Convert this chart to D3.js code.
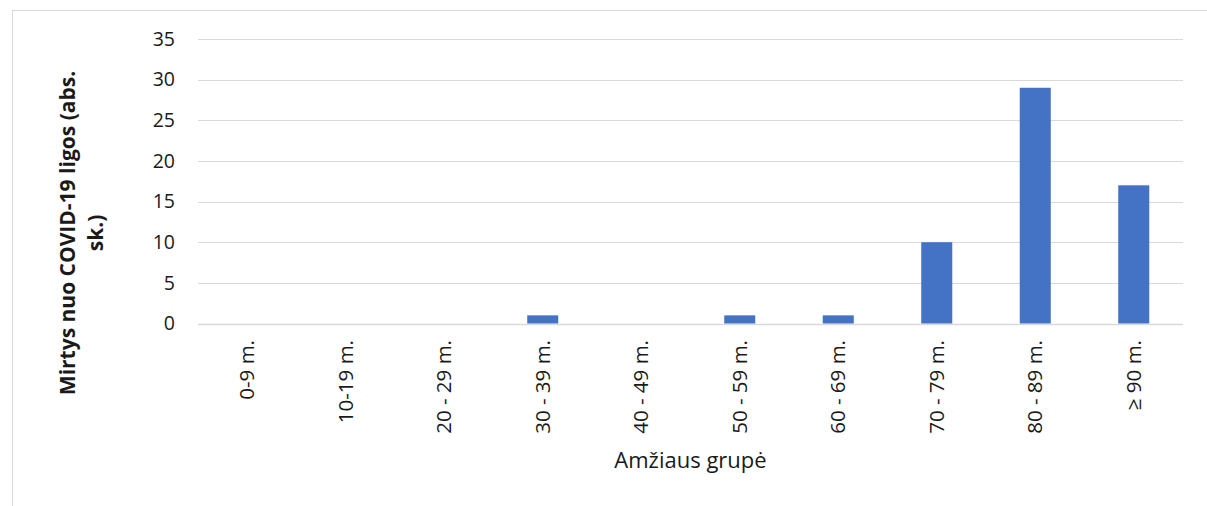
<!DOCTYPE html>
<html>
<head>
<meta charset="utf-8">
<script src="https://cdn.jsdelivr.net/npm/d3@7"></script>
<style>
  body { margin: 0; background: #fff; }
  text { font-family: "Open Sans", "Noto Sans", sans-serif; fill: #1a1a1a; }
</style>
</head>
<body>
<div id="chart"></div>
<script>
var categories = ['0-9 m.', '10-19 m.', '20 - 29 m.', '30 - 39 m.', '40 - 49 m.',
    '50 - 59 m.', '60 - 69 m.', '70 - 79 m.', '80 - 89 m.', '\u2265 90 m.'];
var deaths = [0, 0, 0, 1, 0, 1, 1, 10, 29, 17];
var yTicks = [0, 5, 10, 15, 20, 25, 30, 35];
var yTitle = ['Mirtys nuo COVID-19 ligos (abs.', 'sk.)'];
var xTitle = 'Am\u017eiaus grup\u0117';

var W = 1207, H = 506;
var plot = { left: 198, right: 1183, top: 39, bottom: 323.5 };

var svg = d3.select('#chart').append('svg')
    .attr('width', W).attr('height', H);

svg.append('rect')
    .attr('x', 12.5).attr('y', 10.5)
    .attr('width', W).attr('height', H)
    .attr('fill', '#fff')
    .attr('stroke', '#d9d9d9');

var x = d3.scaleBand()
    .domain(categories)
    .range([plot.left, plot.right])
    .paddingInner(0.685)
    .paddingOuter(0.3425);

var y = d3.scaleLinear()
    .domain([0, 35])
    .range([plot.bottom, plot.top]);

// grid lines
svg.append('g').selectAll('line')
    .data(yTicks)
    .enter().append('line')
    .attr('x1', plot.left).attr('x2', plot.right)
    .attr('y1', function (d) { return Math.round(y(d)) + 0.5; })
    .attr('y2', function (d) { return Math.round(y(d)) + 0.5; })
    .attr('stroke', '#d9d9d9')
    .attr('stroke-width', function (d) { return d == 0 ? 1.5 : 1; });

// y tick labels
svg.append('g').selectAll('text')
    .data(yTicks)
    .enter().append('text')
    .attr('x', 175)
    .attr('y', function (d) { return y(d); })
    .attr('dy', '0.35em')
    .attr('text-anchor', 'end')
    .style('font-size', '19.5px')
    .text(function (d) { return d; });

// bars
svg.append('g').selectAll('rect')
    .data(deaths)
    .enter().append('rect')
    .attr('x', function (d, i) { return x(categories[i]); })
    .attr('width', x.bandwidth())
    .attr('y', function (d) { return y(d); })
    .attr('height', function (d) { return y(0) - y(d); })
    .attr('fill', '#4472c4');

// x labels (rotated)
svg.append('g').selectAll('text')
    .data(categories)
    .enter().append('text')
    .attr('transform', function (d) {
        return 'translate(' + (x(d) + x.bandwidth() / 2) + ',340) rotate(-90)';
    })
    .attr('dy', '0.35em')
    .attr('text-anchor', 'end')
    .style('font-size', '20.5px')
    .text(function (d) { return d; });

// x axis title
svg.append('text')
    .attr('x', (plot.left + plot.right) / 2)
    .attr('y', 468)
    .attr('text-anchor', 'middle')
    .style('font-size', '22px')
    .text(xTitle);

// y axis title
var yt = svg.append('text')
    .attr('transform', 'translate(75,233) rotate(-90)')
    .attr('text-anchor', 'middle')
    .style('font-size', '21px')
    .style('font-weight', 'bold');
yt.selectAll('tspan')
    .data(yTitle)
    .enter().append('tspan')
    .attr('x', 0)
    .attr('dy', function (d, i) { return i == 0 ? 0 : 28; })
    .text(function (d) { return d; });
</script>
</body>
</html>
